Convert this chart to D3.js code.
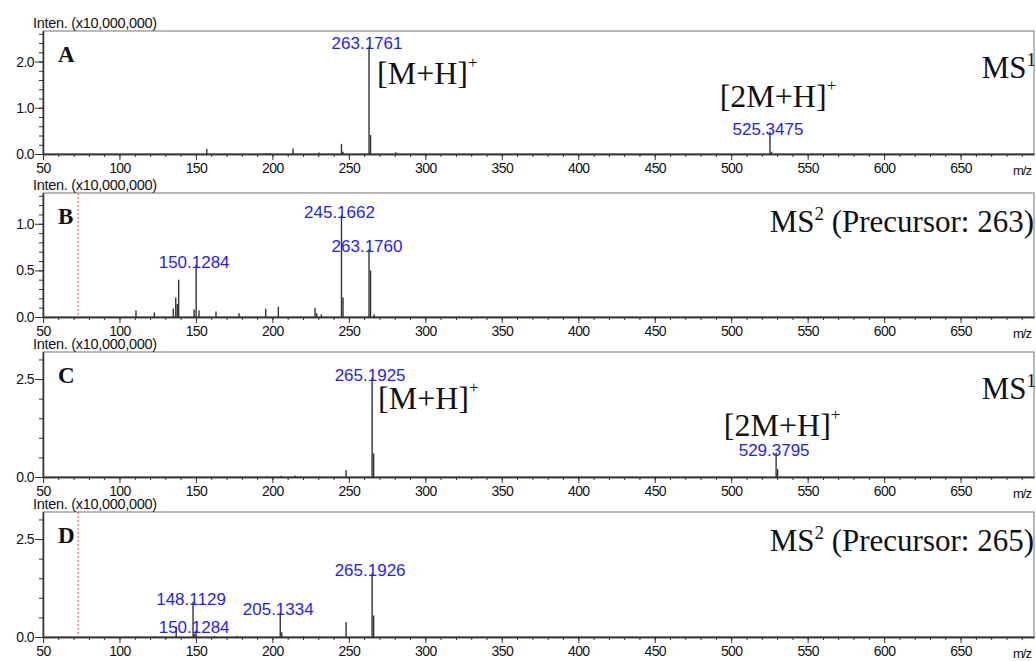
<!DOCTYPE html>
<html>
<head>
<meta charset="utf-8">
<script src="https://cdn.jsdelivr.net/npm/d3@7"></script>
<style>
  body { margin: 0; background: #fff; }
  svg { display: block; }
</style>
</head>
<body>
<div id="chart"></div>
<script>
// m/z axis (shared by all four spectra)
const mzDomain = [50, 698];
const mzMajor = [50, 100, 150, 200, 250, 300, 350, 400, 450, 500, 550, 600, 650];
const mzMinor = d3.range(50, 700, 10);

// peaks: [m/z, intensity x10,000,000]
const peaksA = [
  [157.1, 0.11], [196.3, 0.02], [198.4, 0.02], [213.5, 0.12], [230.5, 0.03],
  [245.17, 0.22], [246.2, 0.05], [263.18, 2.33], [264.18, 0.41], [280.7, 0.04],
  [525.35, 0.48], [526.35, 0.05]
];
const peaksB = [
  [110.8, 0.07], [122.8, 0.05], [135.2, 0.09], [136.8, 0.21], [137.8, 0.14],
  [138.7, 0.40], [148.8, 0.08], [150.13, 0.56], [152.0, 0.07], [163.1, 0.06],
  [178.2, 0.04], [195.6, 0.09], [203.9, 0.11], [227.9, 0.10], [229.0, 0.04],
  [232.0, 0.03], [245.17, 1.09], [246.17, 0.21], [263.18, 0.73], [264.18, 0.50],
  [266.5, 0.03]
];
const peaksC = [
  [196.3, 0.02], [205.8, 0.03], [214.8, 0.04], [231.0, 0.02], [248.18, 0.18],
  [265.19, 2.53], [266.19, 0.60], [529.38, 0.62], [530.38, 0.20]
];
const peaksD = [
  [112.0, 0.02], [123.0, 0.02], [137.1, 0.26], [148.11, 0.90], [149.1, 0.08],
  [150.13, 0.17], [162.5, 0.02], [176.9, 0.03], [205.13, 0.63], [206.13, 0.12],
  [220.0, 0.02], [231.0, 0.02], [248.18, 0.38], [265.19, 1.63], [266.19, 0.55]
];

// labelled peaks: [m/z, text]
const labelsA = [[263.18, "263.1761"], [525.35, "525.3475"]];
const labelsB = [[150.13, "150.1284"], [245.17, "245.1662"], [263.18, "263.1760"]];
const labelsC = [[265.19, "265.1925"], [529.38, "529.3795"]];
const labelsD = [[148.11, "148.1129"], [150.13, "150.1284"], [205.13, "205.1334"], [265.19, "265.1926"]];

// intensity axes
const yMaxes = [2.66, 1.33, 3.19, 3.19];
const yMajorA = [0, 1, 2], yMinorA = d3.range(0, 2.61, 0.2);
const yMajorB = [0, 0.5, 1], yMinorB = d3.range(0, 1.31, 0.1);
const yMajorC = [0, 2.5], yMinorC = d3.range(0, 3.01, 0.5);

const panelLetters = ["A", "B", "C", "D"];
const scanTitles = ["MS1", "MS2 (Precursor: 263)", "MS1", "MS2 (Precursor: 265)"];
const cutoffMz = 73;

const width = 1036, height = 661;
const left = 43, right = 1034;

const svg = d3.select('#chart')
  .append('svg')
  .attr('width', width)
  .attr('height', height);

const x = d3.scaleLinear().domain(mzDomain).range([left, right]);

const panels = [
  { top: 31, bottom: 154, peaks: peaksA, labels: labelsA, yMajor: yMajorA, yMinor: yMinorA },
  { top: 193, bottom: 317, peaks: peaksB, labels: labelsB, yMajor: yMajorB, yMinor: yMinorB, cutoff: true },
  { top: 352, bottom: 477, peaks: peaksC, labels: labelsC, yMajor: yMajorC, yMinor: yMinorC },
  { top: 512, bottom: 637, peaks: peaksD, labels: labelsD, yMajor: yMajorC, yMinor: yMinorC, cutoff: true }
];

const sans = 'Liberation Sans, Arial, sans-serif';
const serif = 'Liberation Serif, Times New Roman, serif';

panels.forEach((p, i) => {
  const g = svg.append('g');
  const y = d3.scaleLinear().domain([0, yMaxes[i]]).range([p.bottom, p.top]);

  // frame
  g.append('rect')
    .attr('x', left).attr('y', p.top)
    .attr('width', right - left).attr('height', p.bottom - p.top)
    .attr('fill', 'none').attr('stroke', '#777').attr('stroke-width', 1);

  // intensity caption
  g.append('text')
    .attr('x', 33).attr('y', p.top - 3)
    .style('font-family', sans).style('font-size', '14.5px')
    .style('letter-spacing', '-0.3px').attr('fill', '#111')
    .text('Inten. (x10,000,000)');

  // y axis
  const yMinorAxis = d3.axisLeft(y).tickValues(p.yMinor).tickSize(4).tickFormat('').tickSizeOuter(0);
  const yMajorAxis = d3.axisLeft(y).tickValues(p.yMajor).tickSize(8).tickPadding(1)
    .tickFormat(d3.format('.1f')).tickSizeOuter(0);
  g.append('g').attr('transform', `translate(${left},0)`).call(yMinorAxis);
  g.append('g').attr('transform', `translate(${left},0)`).call(yMajorAxis);

  // x axis
  const xMinorAxis = d3.axisBottom(x).tickValues(mzMinor).tickSize(3).tickFormat('').tickSizeOuter(0);
  const xMajorAxis = d3.axisBottom(x).tickValues(mzMajor).tickSize(6).tickPadding(3)
    .tickFormat(d3.format('d')).tickSizeOuter(0);
  g.append('g').attr('transform', `translate(0,${p.bottom})`).call(xMinorAxis);
  g.append('g').attr('transform', `translate(0,${p.bottom})`).call(xMajorAxis);

  g.selectAll('.tick text')
    .style('font-family', sans).style('font-size', '14px')
    .style('letter-spacing', '-0.6px').attr('fill', '#111');
  g.selectAll('.tick line').attr('stroke', '#333');
  g.selectAll('.domain').attr('stroke', '#333').attr('stroke-width', 1.3);

  g.append('text')
    .attr('x', 1022).attr('y', p.bottom + 21)
    .attr('text-anchor', 'middle')
    .style('font-family', sans).style('font-size', '13px')
    .style('letter-spacing', '-1px').attr('fill', '#111')
    .text('m/z');

  // low mass cutoff
  if (p.cutoff) {
    g.append('line')
      .attr('x1', x(cutoffMz)).attr('x2', x(cutoffMz))
      .attr('y1', p.top).attr('y2', p.bottom)
      .attr('stroke', '#f04848').attr('stroke-width', 1)
      .attr('stroke-dasharray', '2,2');
  }

  // peaks
  g.selectAll('.peak')
    .data(p.peaks)
    .join('line')
    .attr('class', 'peak')
    .attr('x1', d => x(d[0])).attr('x2', d => x(d[0]))
    .attr('y1', y(0)).attr('y2', d => y(d[1]))
    .attr('stroke', '#333').attr('stroke-width', 1.4);

  // peak labels
  const intensityAt = mz => p.peaks.find(d => d[0] === mz)[1];
  g.selectAll('.plabel')
    .data(p.labels)
    .join('text')
    .attr('class', 'plabel')
    .attr('x', d => x(d[0]) - 2)
    .attr('y', d => y(intensityAt(d[0])) + 3)
    .attr('text-anchor', 'middle')
    .style('font-family', sans).style('font-size', '17px')
    .attr('fill', '#1f1ff0')
    .text(d => d[1]);

  // panel letter
  g.append('text')
    .attr('x', 58).attr('y', p.top + 31)
    .style('font-family', serif).style('font-size', '23px')
    .style('font-weight', 'bold').attr('fill', '#111')
    .text(panelLetters[i]);

  // scan title (top right)
  const title = scanTitles[i];
  const t = g.append('text')
    .attr('x', right + (title === 'MS1' ? 2 : 0))
    .attr('y', p.top + (title === 'MS1' ? 47 : 39))
    .attr('text-anchor', 'end')
    .style('font-family', serif).style('font-size', '31px').attr('fill', '#111');
  t.append('tspan').text('MS');
  t.append('tspan').attr('dy', -12).style('font-size', '19px').text(title.slice(2, 3));
  if (title.length > 3) {
    t.append('tspan').attr('dy', 12).text(title.slice(3));
  }
});

// ion annotations on the MS1 spectra
function ion(text, xPos, yPos, anchor) {
  const t = svg.append('text')
    .attr('x', xPos).attr('y', yPos)
    .attr('text-anchor', anchor)
    .style('font-family', serif).style('font-size', '32px').attr('fill', '#111');
  t.append('tspan').text(text);
  t.append('tspan').attr('dy', -16).style('font-size', '17px').text('+');
}
ion('[M+H]', x(263.18) + 8, panels[0].top + 53, 'start');
ion('[2M+H]', x(525.35) + 8, panels[0].top + 76, 'middle');
ion('[M+H]', x(265.19) + 6, panels[2].top + 57, 'start');
ion('[2M+H]', x(529.38) + 6, panels[2].top + 84, 'middle');
</script>
</body>
</html>
